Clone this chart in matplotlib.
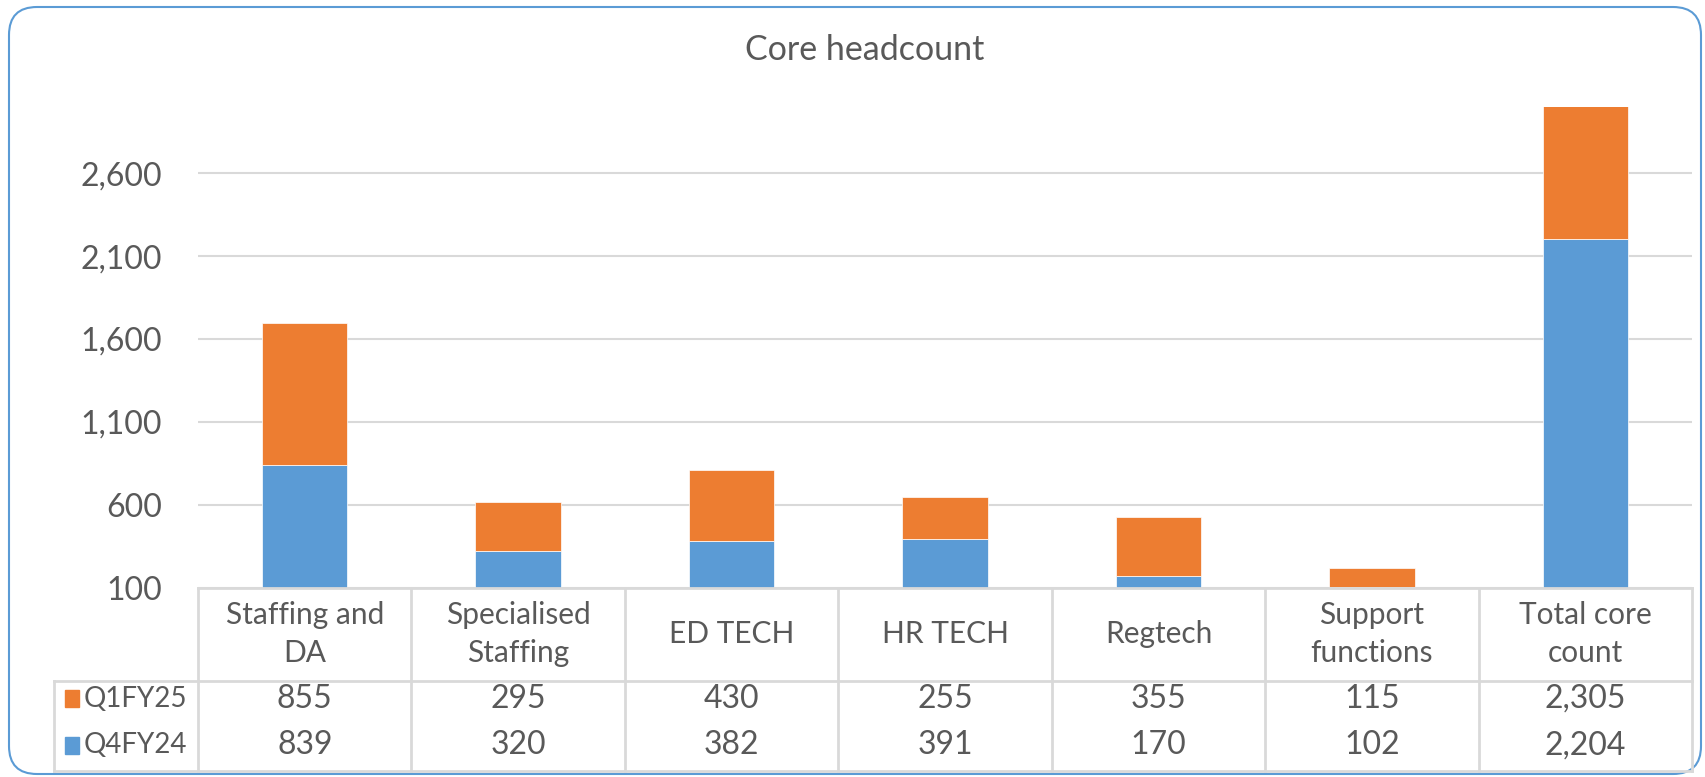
#core headcount chart - stacked bars with a data table underneath

import numpy as np
import matplotlib.pyplot as plt
from matplotlib.patches import FancyBboxPatch, Rectangle
from matplotlib.transforms import IdentityTransform
from matplotlib.ticker import FuncFormatter

#data
categories = ['Staffing and\nDA', 'Specialised\nStaffing', 'ED TECH', 'HR TECH',
              'Regtech', 'Support\nfunctions', 'Total core\ncount']
q1fy25 = [855, 295, 430, 255, 355, 115, 2305]
q4fy24 = [839, 320, 382, 391, 170, 102, 2204]
series_names = ['Q1FY25', 'Q4FY24']
yticks = [100, 600, 1100, 1600, 2100, 2600]

blue = '#5B9BD5'
orange = '#ED7D31'
txt = '#595959'
grid = '#D9D9D9'
font = 'Lato'
fs = 21.5   #table words
fsn = 23    #numbers

fig = plt.figure(figsize=(17.06, 7.77), dpi=100)

#rounded outer border (pixel coords)
border = FancyBboxPatch((9, 3), 1692, 767, boxstyle='round,pad=0,rounding_size=28',
                        transform=IdentityTransform(), fc='white', ec=blue, lw=1.5, zorder=0)
fig.add_artist(border)

fig.text(0.507, 0.936, 'Core headcount', ha='center', va='center',
         fontsize=24.5, color=txt, family=font)

#main plot
ax = fig.add_axes([198/1706, 1 - 587.5/777, (1692-198)/1706, (587.5-107)/777])
ax.set_facecolor('none')
n = len(categories)
x = np.arange(n) + 0.5
ax.bar(x, q4fy24, width=0.4, color=blue, edgecolor='white', linewidth=0.5, zorder=3)
ax.bar(x, q1fy25, bottom=q4fy24, width=0.4, color=orange, edgecolor='white', linewidth=0.5, zorder=3)
ax.set_xlim(0, n)
ax.set_ylim(100, 3000)
ax.set_yticks(yticks)
ax.yaxis.set_major_formatter(FuncFormatter(lambda v, p: f'{int(v):,}'))
ax.tick_params(axis='y', length=0, pad=26, labelsize=fsn, labelcolor=txt)
for lab in ax.get_yticklabels():
  lab.set_family(font)
ax.set_xticks([])
for s in ax.spines.values():
  s.set_visible(False)
ax.grid(axis='y', color=grid, lw=1.5, zorder=0)
ax.set_axisbelow(True)

#data table
tab = fig.add_axes([54/1706, 1 - 771/777, (1692-54)/1706, (771-587.5)/777])
tab.set_facecolor('none')
lx = -0.675
tab.set_xlim(lx, n)
tab.set_ylim(0, 1)
tab.axis('off')
hb = 0.49  #bottom of header row
lw = 2
tab.plot([0, n], [1, 1], color=grid, lw=lw, clip_on=False)
tab.plot([lx, n], [hb, hb], color=grid, lw=lw, clip_on=False)
tab.plot([lx, n], [0, 0], color=grid, lw=lw, clip_on=False)
tab.plot([lx, lx], [0, hb], color=grid, lw=lw, clip_on=False)
for i in range(n + 1):
  tab.plot([i, i], [0, 1], color=grid, lw=lw, clip_on=False)

for i, c in enumerate(categories):
  tab.text(i + 0.5, (1 + hb)/2, c, ha='center', va='center', fontsize=fs,
           color=txt, family=font, linespacing=1.45)

row_y = [0.395, 0.14]
for vals, yy, name, col in zip([q1fy25, q4fy24], row_y, series_names, [orange, blue]):
  for i, v in enumerate(vals):
    tab.text(i + 0.5, yy, f'{v:,}', ha='center', va='center', fontsize=fsn,
             color=txt, family=font)
  tab.add_patch(Rectangle((lx + 0.05, yy - 0.045), 0.065, 0.09, color=col, clip_on=False))
  tab.text(lx + 0.14, yy, name, ha='left', va='center', fontsize=20, color=txt, family=font)

fig.savefig('out.png', dpi=100)
